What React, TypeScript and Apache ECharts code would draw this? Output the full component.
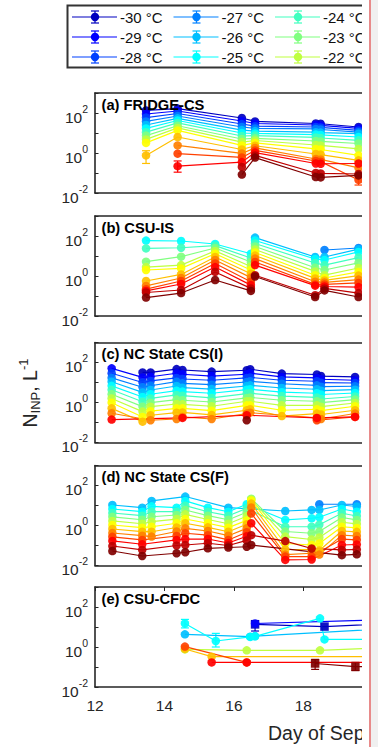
import React, { useEffect, useRef } from 'react';
import * as echarts from 'echarts';

// ---------- data ----------
const TEMPS = [-30, -29, -28, -27, -26, -25, -24, -23, -22, -21, -20, -19, -18, -17, -16, -15];
const TEMP_COLORS = ['#0000bf', '#0000ff', '#0040ff', '#0080ff', '#00bfff', '#00ffff', '#40ffbf', '#80ff80',
  '#bfff40', '#ffff00', '#ffbf00', '#ff8000', '#ff4000', '#ff0000', '#bf0000', '#800000'];
const LEGEND_TEMPS = [-30, -29, -28, -27, -26, -25, -24, -23, -22];
const PANEL_TITLES = ['(a) FRIDGE-CS', '(b) CSU-IS', '(c) NC State CS(I)', '(d) NC State CS(F)', '(e) CSU-CFDC'];
const X_TICKS = [12, 14, 16, 18];
const Y_LABEL_EXPONENTS = [-2, 0, 2];
const X_TITLE = 'Day of September';

const n = null;

// (a) FRIDGE-CS : one row per sampling day, values for -30 ... -15 °C (L^-1)
const FRIDGE_DAYS = [13.47, 14.38, 16.23, 16.61, 18.36, 18.5, 19.59];
const FRIDGE_NINP = [
  [135, 89, 59, 38, 25, 17, 11, 7.4, 4.8, 3.2, 0.76, n, n, n, n, n],
  [166, 126, 95, 71, 54, 42, 32, 23, 18, 13.5, 6.3, 2.4, 0.93, 0.22, n, n],
  [56, 40, 28, 20, 14, 10, 7.1, 5.0, 3.5, 2.4, 1.5, 0.95, 0.6, 0.35, 0.2, 0.083],
  [38, 30, 22, 17, 12.5, 9.5, 7.4, 5.4, 4.2, 3.2, 2.3, 1.8, 1.35, 1.05, 0.76, 0.59],
  [30, 25, 20, 16, 11, 8.3, 6.0, 4.0, 2.5, 1.6, 0.89, 0.5, 0.4, 0.3, 0.1, 0.063],
  [29, 24, 19, 15, 10.5, 8.0, 5.6, 3.8, 2.4, 1.5, 0.83, 0.48, 0.37, 0.29, 0.095, 0.06],
  [20, 17, 13.5, 11, 9.3, 6.3, 4.3, 3.0, 1.6, 0.76, 0.43, 0.18, 0.045, 0.3, 0.089, 0.076],
];
// [day, temperature, lower, upper]
const FRIDGE_ERR = [
  [13.47, -20, 0.3, 1.3],
  [14.38, -17, 0.11, 0.4],
  [19.59, -18, 0.025, 0.07],
];

// (b) CSU-IS
const CSUIS_DAYS = [13.47, 14.48, 15.46, 16.49, 16.61, 18.34, 18.61, 19.59];
const CSUIS_NINP = [
  [n, n, n, n, n, 59, 24, 5.2, 2.8, 2.0, 0.56, 0.32, 0.22, 0.18, 0.15, 0.083],
  [n, n, n, n, n, 56, 26, 9.3, 3.5, 2.4, 1.2, 0.79, 0.56, 0.4, 0.2, 0.14],
  [n, n, n, n, n, 40, 33, 25, 18, 13, 8.9, 6.3, 4.2, 2.8, 1.6, 0.63],
  [n, n, n, n, n, 13, 7.9, 5.0, 3.0, 2.0, 1.3, 0.83, 0.52, 0.35, 0.24, 0.18],
  [n, n, n, n, 83, 60, 42, 30, 21, 15, 10.5, 7.4, 5.0, 3.5, 1.1, 0.95],
  [n, n, n, n, 8.9, 7.1, 4.5, 2.6, 1.7, 1.1, 0.76, 0.52, 0.38, 0.33, 0.11, 0.089],
  [n, n, n, 20, 8.9, 6.3, 3.5, 2.0, 1.1, 0.79, 0.6, 0.48, 0.38, 0.3, 0.24, 0.19],
  [n, n, n, 25, 22, 16, 8.3, 4.5, 2.5, 1.6, 1.05, 0.66, 0.45, 0.28, 0.14, 0.089],
];

// (c) NC State CS(I)
const NCSI_DAYS = [12.48, 13.37, 13.6, 14.35, 14.52, 15.36, 16.37, 16.47, 17.38, 18.39, 18.51, 19.49];
const NCSI_NINP = [
  [n, 51, 29, 17, 11, 6.8, 4.3, 2.6, 1.6, 0.98, 0.51, 0.29, n, 0.14, n, n],
  [32, 18, 10, 5.8, 3.2, 1.9, 1.1, 0.62, 0.35, 0.19, 0.11, n, n, n, n, n],
  [32, 19.5, 12, 6.9, 4.2, 2.6, 1.6, 0.98, 0.62, 0.37, 0.23, 0.13, n, n, n, n],
  [47, 29, 17, 11, 6.7, 3.9, 2.4, 1.4, 0.84, 0.51, 0.31, 0.15, n, n, n, n],
  [42, 26, 15, 9.1, 5.5, 3.5, 2.2, 1.3, 0.81, 0.51, 0.32, 0.19, n, 0.17, n, n],
  [35, 21, 13, 7.8, 4.7, 2.9, 1.7, 1.06, 0.65, 0.39, 0.24, 0.15, n, n, n, n],
  [41, 26, 17, 10.6, 6.7, 4.4, 2.8, 1.7, 1.15, 0.72, 0.41, 0.28, n, 0.23, n, 0.13],
  [46, 29, 18, 11.5, 7.2, 4.6, 2.9, 1.8, 1.15, 0.72, 0.46, 0.31, n, n, n, n],
  [28, 19, 13, 8.7, 5.3, 3.3, 2.1, 1.3, 0.72, 0.41, 0.21, n, n, n, n, n],
  [25, 17, 11.5, 7.2, 4.6, 2.9, 1.8, 1.15, 0.72, 0.46, 0.28, 0.17, 0.13, 0.17, n, n],
  [21, 14.5, 9.8, 6.2, 3.9, 2.5, 1.5, 0.98, 0.62, 0.39, 0.25, 0.15, n, n, n, n],
  [19, 13, 9.4, 6.5, 4.4, 3.0, 2.0, 1.4, 0.94, 0.65, 0.41, 0.28, 0.19, 0.19, n, n],
];

// (d) NC State CS(F)
const NCSF_DAYS = [12.5, 13.36, 13.63, 14.35, 14.6, 15.25, 15.84, 16.37, 16.5, 17.48, 18.24, 18.46, 19.11, 19.54];
const NCSF_NINP = [
  [n, n, n, n, 10.6, 6.7, 4.2, 2.7, 1.7, 1.06, 0.67, 0.42, 0.27, 0.17, 0.094, 0.053],
  [n, n, n, n, 7.8, 4.9, 3.1, 1.95, 1.23, 0.78, 0.49, 0.31, 0.19, 0.115, 0.06, 0.03],
  [n, n, n, n, 17, 9.1, 4.9, 2.75, 1.55, 0.87, 0.49, 0.28, n, n, n, n],
  [n, n, n, n, n, 7.8, 4.9, 3.35, 2.1, 1.3, 0.79, 0.5, 0.3, 0.19, 0.1, 0.041],
  [n, n, n, n, 28, 17, 9.8, 6.0, 3.6, 2.1, 1.3, 0.72, 0.41, 0.21, 0.106, 0.046],
  [n, n, n, n, n, 7.8, 4.9, 3.1, 2.0, 1.3, 0.81, 0.53, 0.33, 0.21, 0.13, 0.072],
  [n, n, n, n, 7.8, 4.9, 3.1, 1.95, 1.23, 0.78, 0.49, 0.31, 0.19, 0.133, 0.1, 0.079],
  [n, n, n, n, n, 11.5, 7.2, 4.6, 2.9, 1.8, 1.15, 0.72, 0.46, 0.29, 0.18, 0.087],
  [n, n, n, n, n, n, n, 22, 20, 18, 12.5, 7.9, 4.0, 1.3, 0.33, 0.106],
  [n, n, n, n, 5.3, 1.9, 0.87, 0.5, 0.28, 0.126, 0.063, 0.035, 0.028, 0.019, 0.166, n],
  [n, n, n, n, 6.0, 2.3, 0.87, 0.41, 0.2, 0.106, 0.063, 0.041, 0.028, 0.02, 0.071, n],
  [n, n, n, 11.5, 6.0, 2.6, 1.1, 0.5, 0.25, 0.126, 0.056, 0.035, n, n, n, n],
  [n, n, n, n, 10.6, 6.7, 4.1, 2.5, 1.45, 0.87, 0.53, 0.33, 0.21, 0.106, 0.06, 0.033],
  [n, n, n, 11.5, 8.9, 4.9, 3.0, 1.9, 1.2, 0.76, 0.48, 0.3, 0.19, 0.112, 0.063, 0.036],
];

// (e) CSU-CFDC
const CFDC_DAYS = [14.59, 15.36, 15.48, 16.37, 16.47, 16.61, 18.34, 18.48, 18.61, 19.5, 20.6];
const CFDC_NINP = [
  [n, n, n, n, 4.3, 15, n, n, 0.76, n, 0.8, n, 1.05, n, n, n],
  [n, n, n, n, n, n, n, n, n, n, 0.33, n, n, 0.17, n, n],
  [n, n, n, n, n, 2.0, n, n, n, n, n, n, n, n, n, n],
  [n, n, n, n, n, n, n, n, 0.68, n, n, n, 0.17, 0.17, n, n],
  [n, n, n, n, 3.3, 3.2, n, n, n, n, n, n, n, n, n, n],
  [13.5, 15, n, n, 3.5, 3.4, n, n, n, n, n, n, n, n, n, n],
  [n, n, n, n, n, n, n, n, n, n, n, n, n, n, n, 0.15],
  [n, n, n, n, n, 27, n, n, 0.68, n, n, n, n, n, n, n],
  [10.5, n, n, n, n, 2.4, n, n, n, n, n, n, n, n, n, n],
  [n, n, n, n, n, n, n, n, n, n, n, n, n, n, n, 0.105],
  [15, 24, n, n, 8.5, 2.4, n, n, 0.95, n, 0.33, n, n, 0.17, n, 0.1],
];
const CFDC_ERR = [
  [14.59, -25, 9, 24],
  [15.48, -25, 1.0, 4.8],
  [16.61, -30, 6.3, 21],
  [18.34, -15, 0.076, 0.24],
  [19.5, -15, 0.066, 0.17],
];
const CFDC_SQUARE_TEMPS = [-30, -15];

// ---------- layout / style ----------
const FONT = '"Liberation Sans", Arial, Helvetica, sans-serif';
const AXIS_COLOR = '#262626';
const PANEL_TOPS = [93, 216, 342.5, 465.5, 587];
const PANEL_H = 100;
const GRID_LEFT = 95;
const GRID_W = 267;
const X_MIN = 12;
const X_MAX = 19.69;

function buildOption() {
  const panels = [
    { days: FRIDGE_DAYS, cols: FRIDGE_NINP, err: FRIDGE_ERR, squares: [] as number[] },
    { days: CSUIS_DAYS, cols: CSUIS_NINP, err: [] as number[][], squares: [] as number[] },
    { days: NCSI_DAYS, cols: NCSI_NINP, err: [] as number[][], squares: [] as number[] },
    { days: NCSF_DAYS, cols: NCSF_NINP, err: [] as number[][], squares: [] as number[] },
    { days: CFDC_DAYS, cols: CFDC_NINP, err: CFDC_ERR, squares: CFDC_SQUARE_TEMPS },
  ];
  const lineStyleAxis = { color: AXIS_COLOR, width: 1.6 };
  const grid = PANEL_TOPS.map((top) => ({ left: GRID_LEFT, top, width: GRID_W, height: PANEL_H }));
  const xAxis: any[] = [];
  const yAxis: any[] = [];
  const series: any[] = [];

  panels.forEach((_, i) => {
    const last = i === panels.length - 1;
    xAxis.push({
      type: 'value', gridIndex: i, min: X_MIN, max: X_MAX, interval: 2, position: 'bottom',
      axisLine: { show: true, onZero: false, lineStyle: lineStyleAxis },
      axisTick: { show: false },
      axisLabel: {
        show: last, color: AXIS_COLOR, fontSize: 15.5, fontFamily: FONT, margin: 10,
        customValues: X_TICKS,
      },
      splitLine: { show: false },
    });
  });
  panels.forEach((_, i) => {
    const last = i === panels.length - 1;
    xAxis.push({
      type: 'value', gridIndex: i, min: X_MIN, max: X_MAX, interval: 2, position: 'top',
      axisLine: { show: true, onZero: false, lineStyle: lineStyleAxis },
      axisTick: { show: last, inside: true, length: 4, customValues: X_TICKS, lineStyle: { color: AXIS_COLOR, width: 1 } },
      axisLabel: { show: false },
      splitLine: { show: false },
    });
  });
  panels.forEach((_, i) => {
    yAxis.push({
      type: 'log', logBase: 10, gridIndex: i, min: 0.01, max: 1000, splitNumber: 5,
      axisLine: { show: true, onZero: false, lineStyle: lineStyleAxis },
      axisTick: { show: true, inside: true, length: 3.5, lineStyle: { color: AXIS_COLOR, width: 1 } },
      axisLabel: {
        margin: 7,
        formatter: (v: number) => {
          const e = Math.round(Math.log10(v));
          return Y_LABEL_EXPONENTS.includes(e) ? `{b|10}{s|${e}}` : '';
        },
        rich: {
          b: { fontSize: 15.5, fontFamily: FONT, color: AXIS_COLOR, lineHeight: 22, padding: [8, 0, 0, 0] },
          s: { fontSize: 10.5, fontFamily: FONT, color: AXIS_COLOR, lineHeight: 22, padding: [0, 0, 9, 0] },
        },
      },
      splitLine: { show: false },
    });
  });

  panels.forEach((p, i) => {
    TEMPS.forEach((t, ti) => {
      const data: number[][] = [];
      p.days.forEach((d, j) => {
        const v = p.cols[j][ti];
        if (v != null) data.push([d, v]);
      });
      if (!data.length) return;
      const c = TEMP_COLORS[ti];
      series.push({
        type: 'line', name: `${t} °C`, xAxisIndex: i, yAxisIndex: i, data,
        symbol: p.squares.includes(t) ? 'rect' : 'circle',
        symbolSize: 8.5, showSymbol: true, silent: true,
        lineStyle: { color: c, width: 1.15 },
        itemStyle: { color: c, opacity: 0.92 },
        emphasis: { disabled: true },
      });
    });
    if (p.err.length) {
      series.push({
        type: 'custom', xAxisIndex: i, yAxisIndex: i, silent: true,
        data: p.err.map(([d, t, lo, hi]) => [d, lo, hi, TEMPS.indexOf(t)]),
        encode: { x: 0, y: [1, 2] },
        z: 3,
        renderItem: (_params: any, api: any) => {
          const x = api.value(0);
          const a = api.coord([x, api.value(1)]);
          const b = api.coord([x, api.value(2)]);
          const st = { stroke: TEMP_COLORS[api.value(3)], lineWidth: 1.2 };
          return {
            type: 'group',
            children: [
              { type: 'line', shape: { x1: a[0], y1: a[1], x2: b[0], y2: b[1] }, style: st },
              { type: 'line', shape: { x1: a[0] - 4, y1: a[1], x2: a[0] + 4, y2: a[1] }, style: st },
              { type: 'line', shape: { x1: b[0] - 4, y1: b[1], x2: b[0] + 4, y2: b[1] }, style: st },
            ],
          };
        },
      });
    }
  });

  const graphic: any[] = [];
  // legend box
  graphic.push({
    type: 'rect', z: 5, shape: { x: 67.5, y: 5.5, width: 420, height: 62 },
    style: { fill: '#ffffff', stroke: '#333333', lineWidth: 2 },
  });
  LEGEND_TEMPS.forEach((t, k) => {
    const c = Math.floor(k / 3);
    const r = k % 3;
    const x0 = 72 + c * 101.5;
    const y = 17 + r * 20;
    const col = TEMP_COLORS[TEMPS.indexOf(t)];
    const mx = x0 + 23;
    const st = { stroke: col, lineWidth: 1.2 };
    graphic.push({ type: 'line', z: 6, shape: { x1: x0, y1: y, x2: x0 + 45, y2: y }, style: st });
    graphic.push({ type: 'line', z: 6, shape: { x1: mx, y1: y - 6, x2: mx, y2: y + 6 }, style: st });
    graphic.push({ type: 'line', z: 6, shape: { x1: mx - 4, y1: y - 6, x2: mx + 4, y2: y - 6 }, style: st });
    graphic.push({ type: 'line', z: 6, shape: { x1: mx - 4, y1: y + 6, x2: mx + 4, y2: y + 6 }, style: st });
    graphic.push({ type: 'circle', z: 7, shape: { cx: mx, cy: y, r: 4.2 }, style: { fill: col } });
    graphic.push({
      type: 'text', z: 7, x: x0 + 48, y,
      style: { text: `${t} °C`, fontSize: 15, fontFamily: FONT, fill: '#111111', align: 'left', verticalAlign: 'middle' },
    });
  });
  // panel titles
  PANEL_TITLES.forEach((title, i) => {
    graphic.push({
      type: 'text', z: 20, x: GRID_LEFT + 6.5, y: PANEL_TOPS[i] + 11.5,
      style: { text: title, fontSize: 14.7, fontWeight: 'bold', fontFamily: FONT, fill: '#000000', align: 'left', verticalAlign: 'middle' },
    });
  });
  // y title
  graphic.push({
    type: 'text', z: 20, x: 30, y: 393, rotation: Math.PI / 2,
    style: {
      text: '{m|N}{s|INP}{m|, L}{p|-1}',
      align: 'center', verticalAlign: 'middle', fill: AXIS_COLOR,
      rich: {
        m: { fontSize: 19.5, fontFamily: FONT, fill: AXIS_COLOR, lineHeight: 26 },
        s: { fontSize: 13, fontFamily: FONT, fill: AXIS_COLOR, lineHeight: 26, padding: [11, 0, 0, 0] },
        p: { fontSize: 13, fontFamily: FONT, fill: AXIS_COLOR, lineHeight: 26, padding: [0, 0, 13, 0] },
      },
    },
  });
  // x title
  graphic.push({
    type: 'text', z: 20, x: 268, y: 733,
    style: { text: X_TITLE, fontSize: 19.5, fontFamily: FONT, fill: AXIS_COLOR, align: 'left', verticalAlign: 'middle' },
  });

  return { animation: false, backgroundColor: '#ffffff', grid, xAxis, yAxis, series, graphic };
}

export default function App() {
  const ref = useRef<HTMLDivElement>(null);
  useEffect(() => {
    if (!ref.current) return;
    const chart = echarts.init(ref.current, undefined, { renderer: 'svg' });
    chart.setOption(buildOption() as any);
    return () => chart.dispose();
  }, []);
  return (
    <div style={{ position: 'absolute', left: 0, top: 0, width: 378, height: 747, background: '#ffffff', overflow: 'hidden' }}>
      <div ref={ref} style={{ position: 'absolute', left: 0, top: 0, width: 362, height: 747 }} />
      <div style={{ position: 'absolute', left: 369, top: 0, width: 1.5, height: 747, background: '#e88a8a' }} />
      <div style={{ position: 'absolute', left: 370.5, top: 0, width: 7.5, height: 747, background: '#f0f0f0' }} />
    </div>
  );
}
